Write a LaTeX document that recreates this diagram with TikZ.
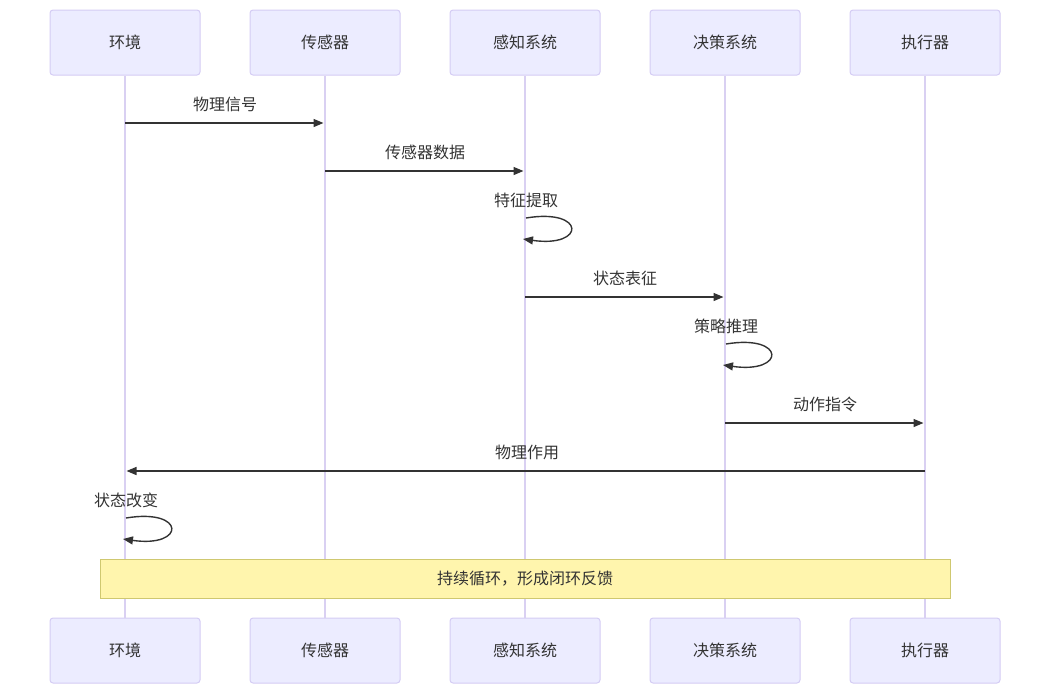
\documentclass[tikz,border=0pt]{standalone}
\usepackage{fontspec}
\setmainfont{Noto Sans CJK SC}
\usetikzlibrary{arrows.meta}
\definecolor{actorfill}{HTML}{ECECFF}
\definecolor{actorline}{HTML}{D4CCF4}
\definecolor{lifeline}{HTML}{D9D0F2}
\definecolor{txt}{HTML}{333333}
\definecolor{notefill}{HTML}{FFF5AD}
\definecolor{noteline}{HTML}{CFC870}
\tikzset{
  actor/.style={draw=actorline, fill=actorfill, rounded corners=3pt, minimum width=150pt, minimum height=65pt, inner sep=0pt, line width=1pt, text=txt, font=\fontsize{16}{19}\selectfont},
  lifel/.style={draw=lifeline, line width=1.2pt},
  msg/.style={draw=txt, line width=1.4pt, -{Triangle[length=10pt,width=8pt]}},
  lbl/.style={text=txt, font=\fontsize{16}{19}\selectfont, inner sep=0pt},
  notebox/.style={draw=noteline, fill=notefill, line width=1pt, minimum width=850pt, minimum height=39pt, inner sep=0pt, text=txt, font=\fontsize{16}{19}\selectfont},
}
\begin{document}
\begin{tikzpicture}[x=1pt,y=-1pt]
\useasboundingbox (0,0) rectangle (1050,694);
% actors
\foreach \n/\x/\t in {a/125/环境, b/325/传感器, c/525/感知系统, d/725/决策系统, e/925/执行器}{
  \node[actor] (\n top) at (\x,42.5) {\t};
  \node[actor] (\n bot) at (\x,650.5) {\t};
  \draw[lifel] (\n top.south) -- (\n bot.north);
}
% message coordinates
\coordinate (a1) at (125,123); \coordinate (b1) at (325,123);
\coordinate (b2) at (325,171); \coordinate (c2) at (525,171);
\coordinate (c3) at (525,297); \coordinate (d3) at (725,297);
\coordinate (d4) at (725,423); \coordinate (e4) at (925,423);
\coordinate (e5) at (925,471); \coordinate (a5) at (125,471);
% messages
\draw[msg, shorten >=1.5pt] (a1) -- (b1);
\node[lbl] (l1) at (225,104) {物理信号};
\draw[msg, shorten >=1.5pt] (b2) -- (c2);
\node[lbl] (l2) at (425,152) {传感器数据};
\node[lbl] (l3) at (526,200) {特征提取};
\draw[msg] (526,218) .. controls (586,208) and (586,248) .. (523,239);
\draw[msg, shorten >=1.5pt] (c3) -- (d3);
\node[lbl] (l4) at (625,278) {状态表征};
\node[lbl] (l5) at (726,326) {策略推理};
\draw[msg] (726,344) .. controls (786,334) and (786,374) .. (723,365);
\draw[msg, shorten >=1.5pt] (d4) -- (e4);
\node[lbl] (l6) at (825,404) {动作指令};
\draw[msg, shorten >=1.5pt] (e5) -- (a5);
\node[lbl] (l7) at (527,452) {物理作用};
\node[lbl] (l8) at (126,500) {状态改变};
\draw[msg] (126,518) .. controls (186,508) and (186,548) .. (123,539);
% note
\node[notebox] (note) at (525,578.5) {持续循环，形成闭环反馈};
\end{tikzpicture}
\end{document}
